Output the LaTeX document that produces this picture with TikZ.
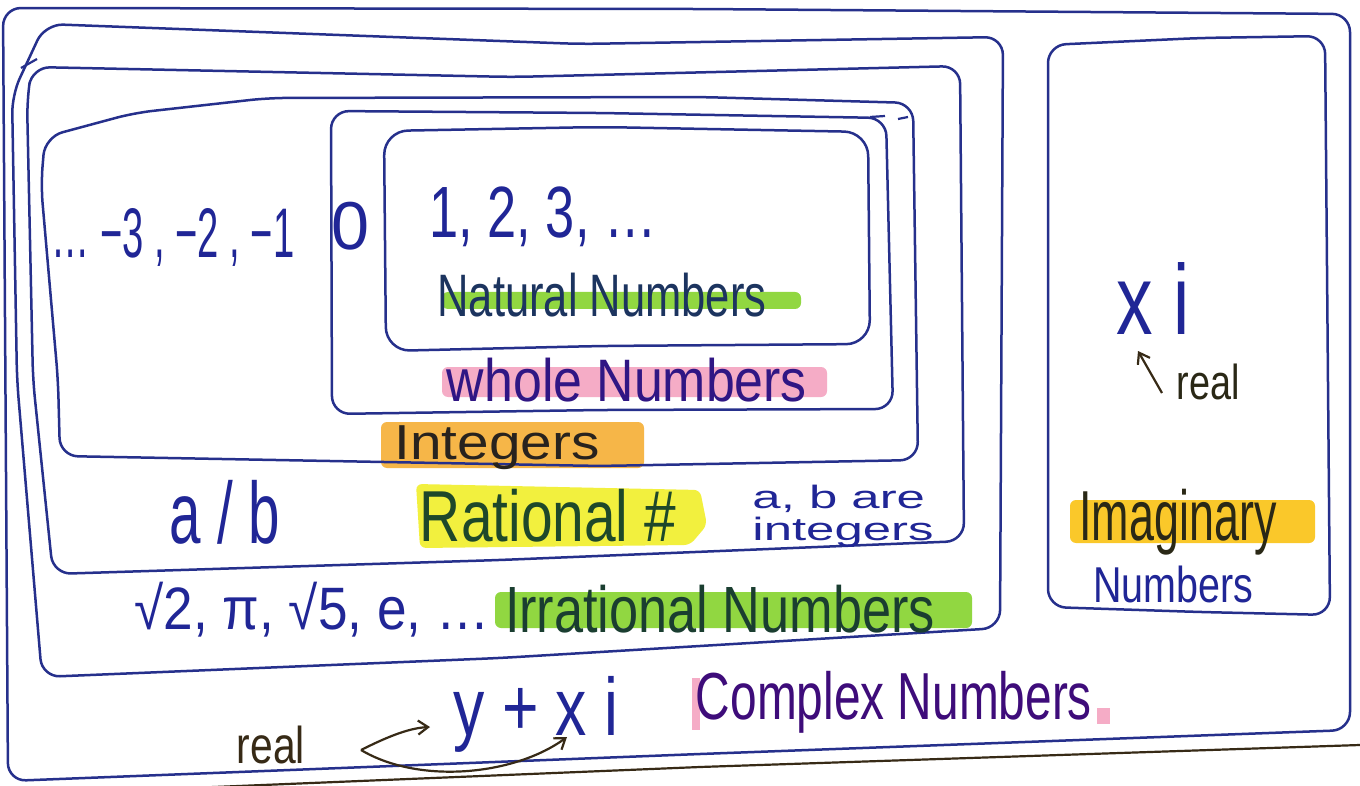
\documentclass[tikz,border=0pt]{standalone}
\usepackage{fontspec}
\setmainfont{Liberation Sans}
\usepackage{graphicx}
\usetikzlibrary{arrows.meta}
\newdimen\upx \upx=0.5pt
\newcommand{\fitbox}[3]{\resizebox*{#1\upx}{#2\upx}{#3}}
\definecolor{boxnavy}{RGB}{38,48,140}
\definecolor{inknavy}{RGB}{32,38,150}
\definecolor{inknat}{RGB}{28,52,95}
\definecolor{inkwhole}{RGB}{48,22,132}
\definecolor{inkint}{RGB}{40,35,30}
\definecolor{inkrat}{RGB}{30,72,42}
\definecolor{inkirr}{RGB}{26,62,48}
\definecolor{inkimag}{RGB}{42,40,22}
\definecolor{inkcomplex}{RGB}{62,12,122}
\definecolor{inkreal}{RGB}{55,42,22}
\definecolor{hlgreen}{RGB}{145,215,65}
\definecolor{hlpink}{RGB}{245,172,198}
\definecolor{hlorange}{RGB}{246,182,72}
\definecolor{hlyellow}{RGB}{242,240,62}
\definecolor{hlimag}{RGB}{250,200,42}
\begin{document}
\begin{tikzpicture}[x=0.5pt,y=-0.5pt,
  setbox/.style={draw=boxnavy, line width=1.25pt, rounded corners=9pt, line join=round},
  txt/.style={inner sep=0pt, outer sep=0pt},
  hl/.style={rounded corners=3pt},
  pen/.style={draw=inkreal, line width=1.1pt, -{Straight Barb[length=5pt,width=7pt]}}]
\useasboundingbox (0,0) rectangle (1360,786);
\fill[white] (0,0) rectangle (1360,786);

% highlights
\fill[hl, hlgreen] (442,292) rectangle (801,309);
\fill[hl, hlpink] (442,367) rectangle (827,397);
\fill[hl, hlorange] (381,422) rectangle (644,468);
\fill[hl, hlyellow] (416,484) -- (700,490) -- (707,525) -- (690,545) -- (420,548) -- cycle;
\fill[hl, hlgreen] (495,592) rectangle (972,628);
\fill[hl, hlimag] (1070,500) rectangle (1315,543);
\fill[hlpink] (692,678) rectangle (700,730);
\fill[hlpink] (1097,708) rectangle (1110,724);

% complex numbers box
\draw[setbox] (3,8) -- (700,9) -- (1350,14) -- (1350,730) -- (700,754) -- (8,781) -- cycle;
% real (irrational) box
\draw[setbox] (45,24) -- (580,44) -- (1003,37) -- (1000,628) -- (500,658) -- (42,677) -- (17,380) -- (12,95) -- cycle;
\draw[boxnavy, line width=1.1pt] (21,68) -- (37,59);
% rational box
\draw[setbox] (32,67) -- (513,77) -- (960,66) -- (964,541) -- (500,560) -- (53,574) -- (33,380) -- (27,100) -- cycle;
% integers box
\draw[setbox] (45,137) -- (134,113) -- (268,98) -- (700,97) -- (913,103) -- (918,460) -- (600,466) -- (60,456) -- (58,380) -- (41,185) -- cycle;
\draw[boxnavy, line width=1.1pt] (898,119) -- (908,117);
% whole numbers box
\draw[setbox] (331,111) -- (600,113) -- (886,118) -- (893,409) -- (600,410) -- (332,414) -- cycle;
\draw[boxnavy, line width=1.1pt] (870,117) -- (885,116);
% natural numbers box
\draw[setbox, rounded corners=12pt] (384,131) -- (600,127) -- (868,132) -- (870,344) -- (600,346) -- (386,351) -- cycle;
% imaginary numbers box
\draw[setbox] (1048,45) -- (1200,38) -- (1325,36) -- (1330,615) -- (1200,612) -- (1048,607) -- cycle;
% line below the picture
\draw[draw=inkreal, line width=1.1pt] (190,788) -- (700,767) -- (1360,745);

% texts
\node[txt, text=inknavy] (neg) at (173,237) {\fitbox{243}{58}{… −3 , −2 , −1}};
\node[txt, text=inknavy] (zero) at (351,226) {\fitbox{38}{48}{0}};
\node[txt, text=inknavy] (nat) at (543,217) {\fitbox{227}{60}{1, 2, 3, …}};
\node[txt, text=inknat] (natlbl) at (602,295) {\fitbox{329}{44}{Natural Numbers}};
\node[txt, text=inkwhole] (wholelbl) at (627,380) {\fitbox{360}{44}{whole Numbers}};
\node[txt, text=inkint] (intlbl) at (497,448) {\fitbox{205}{44}{Integers}};
\node[txt, text=inknavy] (ab) at (225,512) {\fitbox{110}{64}{a / b}};
\node[txt, text=inkrat] (ratlbl) at (548,516) {\fitbox{256}{53}{Rational \#}};
\node[txt, text=inknavy] (abint) at (843,517) {\fitbox{181}{71}{\begin{tabular}{@{}l@{}}a, b are\\[-2pt] integers\end{tabular}}};
\node[txt, text=inknavy] (irr) at (312,610) {\fitbox{355}{55}{√2, π, √5, e, …}};
\node[txt, text=inkirr] (irrlbl) at (720,609) {\fitbox{430}{48}{Irrational Numbers}};
\node[txt, text=inknavy] (xi) at (1153,298) {\fitbox{73}{72}{x i}};
\node[txt, text=inkimag] (realI) at (1208,382) {\fitbox{63}{36}{real}};
\node[txt, text=inkimag] (imaglbl) at (1178,522) {\fitbox{197}{66}{Imaginary}};
\node[txt, text=inknavy] (imagnum) at (1173,584) {\fitbox{160}{37}{Numbers}};
\node[txt, text=inknavy] (yxi) at (536,714) {\fitbox{165}{76}{y + x i}};
\node[txt, text=inkcomplex] (cplx) at (894,702) {\fitbox{396}{62}{Complex Numbers}};
\node[txt, text=inkreal] (realC) at (271,745) {\fitbox{68}{38}{real}};

% arrows
\coordinate (ta) at (1162,393);
\coordinate (ha) at (1138,351);
\draw[pen] (ta) -- (ha);
\coordinate (rt) at (361,750);
\coordinate (h1) at (430,727);
\coordinate (h2) at (567,737);
\draw[pen] (rt) .. controls (385,738) and (408,728) .. (h1);
\draw[pen] (rt) .. controls (420,785) and (515,775) .. (h2);
\end{tikzpicture}
\end{document}
